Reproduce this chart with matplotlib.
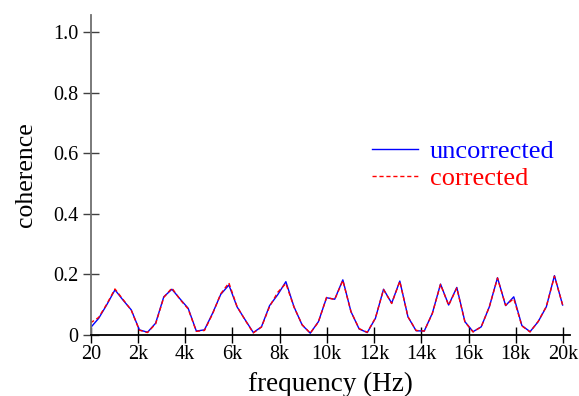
import matplotlib
matplotlib.use("Agg")
import matplotlib.pyplot as plt

freq = [0, 345, 689, 1034, 1378, 1723, 2067, 2412, 2756, 3101, 3445, 3790, 4134,
        4479, 4823, 5168, 5512, 5857, 6202, 6546, 6891, 7235, 7580, 7924, 8269,
        8613, 8958, 9302, 9647, 9991, 10336, 10680, 11025, 11370, 11714, 12059,
        12403, 12748, 13092, 13437, 13781, 14126, 14470, 14815, 15159, 15504,
        15848, 16193, 16538, 16882, 17227, 17571, 17916, 18260, 18605, 18949,
        19294, 19638, 19983]

uncorrected = [0.024, 0.055, 0.100, 0.149, 0.115, 0.083, 0.017, 0.009, 0.039, 0.126,
               0.151, 0.119, 0.088, 0.013, 0.017, 0.072, 0.134, 0.165, 0.093, 0.050,
               0.008, 0.027, 0.097, 0.133, 0.176, 0.093, 0.033, 0.006, 0.044, 0.123,
               0.118, 0.182, 0.077, 0.020, 0.008, 0.055, 0.151, 0.105, 0.178, 0.060,
               0.014, 0.013, 0.072, 0.168, 0.099, 0.157, 0.044, 0.011, 0.027, 0.093,
               0.189, 0.097, 0.126, 0.031, 0.011, 0.044, 0.093, 0.196, 0.099]

corrected = [0.040, 0.058, 0.102, 0.152, 0.117, 0.082, 0.016, 0.008, 0.037, 0.124,
             0.155, 0.117, 0.086, 0.012, 0.015, 0.070, 0.136, 0.172, 0.094, 0.049,
             0.007, 0.026, 0.094, 0.141, 0.170, 0.092, 0.034, 0.006, 0.043, 0.124,
             0.117, 0.180, 0.077, 0.021, 0.009, 0.056, 0.150, 0.104, 0.177, 0.060,
             0.015, 0.013, 0.071, 0.167, 0.098, 0.155, 0.043, 0.010, 0.027, 0.093,
             0.188, 0.098, 0.120, 0.030, 0.010, 0.045, 0.094, 0.194, 0.100]

xticks = [20, 2000, 4000, 6000, 8000, 10000, 12000, 14000, 16000, 18000, 20000]
xticklabels = ['20', '2k', '4k', '6k', '8k', '10k', '12k', '14k', '16k', '18k', '20k']
yticks = [0, 0.2, 0.4, 0.6, 0.8, 1.0]
yticklabels = ['0', '0.2', '0.4', '0.6', '0.8', '1.0']

plt.rcParams['font.family'] = ['Liberation Serif', 'DejaVu Serif']

W, H = 579, 396
fig = plt.figure(figsize=(W / 100, H / 100), dpi=100)
ax = fig.add_axes([91 / W, (H - 335) / H, 479 / W, 320 / H])

ax.plot(freq, uncorrected, color='#0000ff', lw=1.0, label='uncorrected')
ax.plot(freq, corrected, color='#ff0000', lw=1.0, ls=(0, (3, 2)), label='corrected')

px_per_hz = 472 / 19980
ax.set_xlim(20, 20 + 479 / px_per_hz)
ax.set_ylim(0, 320 / 303)

ax.set_xticks(xticks)
ax.set_xticklabels(xticklabels)
ax.set_yticks(yticks)
ax.set_yticklabels(yticklabels)

for s in ['top', 'right']:
    ax.spines[s].set_visible(False)
ax.spines['left'].set_color('#707070')
ax.spines['left'].set_linewidth(1.3)
ax.spines['bottom'].set_color('black')
ax.spines['bottom'].set_linewidth(1.3)

ax.tick_params(axis='x', direction='inout', length=11, width=1.0, colors='black',
               labelsize=14.5, pad=2)
ax.tick_params(axis='y', direction='inout', length=12, width=1.0, color='#404040',
               labelcolor='black', labelsize=14.5, pad=3)

ax.set_xlabel('frequency (Hz)', fontsize=19.5, labelpad=5)
ax.set_ylabel('coherence', fontsize=18.5, labelpad=12)

leg = ax.legend(loc='upper left', bbox_to_anchor=(372 / W, 1 - 140 / H),
                bbox_transform=fig.transFigure, frameon=False, fontsize=19,
                handlelength=1.75, handletextpad=0.45, labelspacing=0.12,
                borderpad=0, borderaxespad=0, labelcolor='linecolor')

fig.savefig('out.png', dpi=100)
